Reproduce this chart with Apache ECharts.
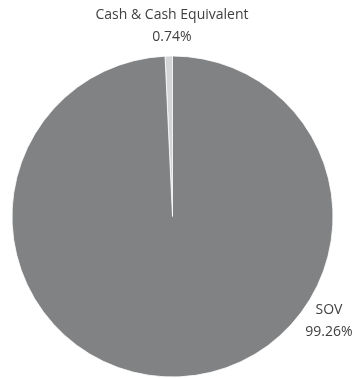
<!DOCTYPE html>
<html>
<head>
<meta charset="utf-8">
<script src="https://cdn.jsdelivr.net/npm/echarts@6/dist/echarts.min.js"></script>
<style>
html,body{margin:0;padding:0;background:#fff;}
#chart{width:356px;height:378px;}
</style>
</head>
<body>
<div id="chart"></div>
<script>
var categories = ['Cash & Cash Equivalent', 'SOV'];
var values = [0.74, 99.26];
var colors = ['#d4d5d6', '#808284'];

var chart = echarts.init(document.getElementById('chart'), null, {renderer: 'canvas'});
chart.setOption({
  animation: false,
  series: [{
    type: 'pie',
    center: [172.5, 216.5],
    radius: [0, 160.5],
    startAngle: 90,
    clockwise: false,
    percentPrecision: 2,
    data: categories.map(function (c, i) {
      return {name: c, value: values[i], itemStyle: {color: colors[i]}};
    }),
    itemStyle: {borderColor: '#ffffff', borderWidth: 0.8},
    label: {
      show: true,
      position: 'outside',
      formatter: '{b}\n{d}%',
      fontFamily: 'Open Sans',
      fontSize: 14,
      lineHeight: 22,
      color: '#404040',
      align: 'center',
      overflow: 'none',
      width: 200
    },
    labelLine: {show: false},
    labelLayout: function (params) {
      if (params.dataIndex === 0) {
        return {x: 172, y: 26, align: 'center', verticalAlign: 'middle', width: 200};
      }
      return {x: 329, y: 321, align: 'center', verticalAlign: 'middle', width: 100};
    }
  }]
});
</script>
</body>
</html>
